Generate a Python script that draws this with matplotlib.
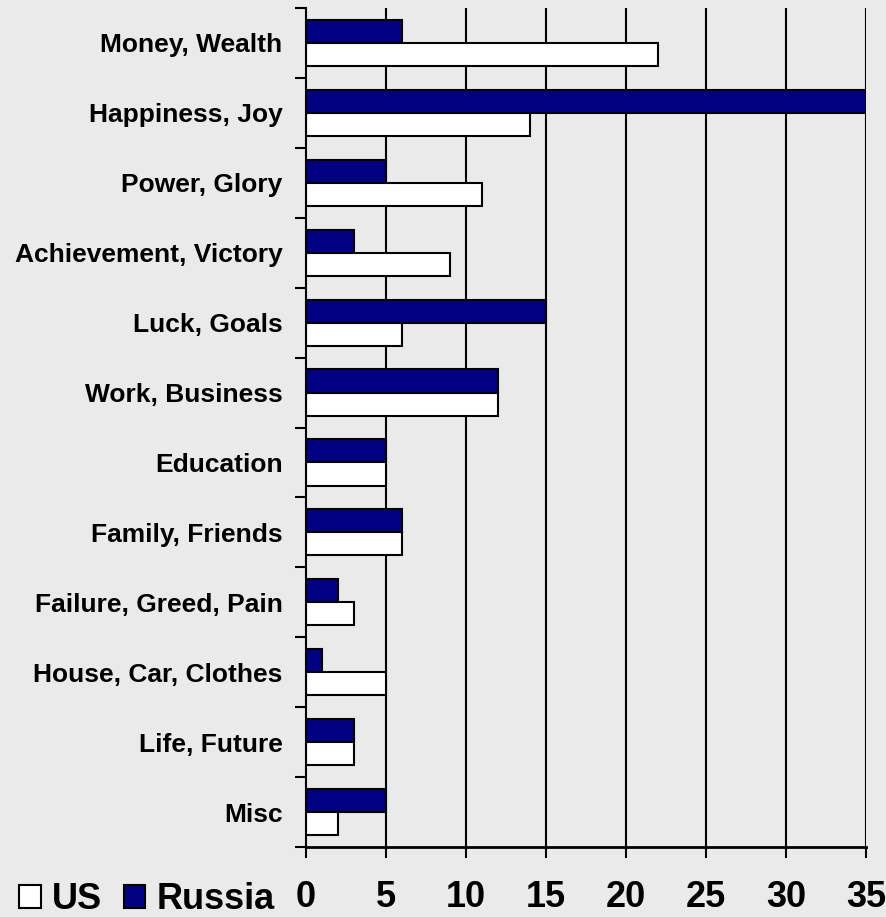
import matplotlib.pyplot as plt
from matplotlib.patches import Patch
import numpy as np

plt.rcParams['font.family'] = ['Liberation Sans', 'DejaVu Sans']
plt.rcParams['font.weight'] = 'bold'

categories = ['Money, Wealth', 'Happiness, Joy', 'Power, Glory', 'Achievement, Victory',
              'Luck, Goals', 'Work, Business', 'Education', 'Family, Friends',
              'Failure, Greed, Pain', 'House, Car, Clothes', 'Life, Future', 'Misc']
russia = [6, 35, 5, 3, 15, 12, 5, 6, 2, 1, 3, 5]
us = [22, 14, 11, 9, 6, 12, 5, 6, 3, 5, 3, 2]
xticks = [0, 5, 10, 15, 20, 25, 30, 35]

bg = '#eaeaea'
navy = '#000080'

fig = plt.figure(figsize=(8.86, 9.17), dpi=100, facecolor=bg)
ax = fig.add_axes([0.3454, 0.0763, 0.632, 0.915])
ax.set_facecolor(bg)

y = np.arange(len(categories))
h = 0.33
ax.barh(y - h / 2, russia, height=h, color=navy, edgecolor='black', linewidth=1.5, zorder=3)
ax.barh(y + h / 2, us, height=h, color='white', edgecolor='black', linewidth=1.5, zorder=3)

ax.set_xlim(0, 35)
ax.set_ylim(len(categories) - 0.5, -0.5)

ax.set_xticks(xticks)
ax.set_xticklabels([str(v) for v in xticks], fontsize=26, fontweight='bold')
ax.tick_params(axis='x', direction='out', length=8, width=1.5, pad=16)

# category names sit between the boundary ticks
ax.set_yticks(np.arange(len(categories) + 1) - 0.5)
ax.set_yticklabels([])
ax.set_yticks(y, minor=True)
ax.set_yticklabels(categories, minor=True, fontsize=19, fontweight='bold')
ax.tick_params(axis='y', which='major', direction='out', length=8, width=1.5)
ax.tick_params(axis='y', which='minor', length=0, pad=17)

for v in xticks[1:]:
    ax.axvline(v, color='black', linewidth=1.5, zorder=1)

for side in ['top', 'right']:
    ax.spines[side].set_visible(False)
ax.spines['left'].set_linewidth(1.5)
ax.spines['bottom'].set_linewidth(2)
ax.spines['left'].set_zorder(4)

handles = [Patch(facecolor='white', edgecolor='black', linewidth=1.5),
           Patch(facecolor=navy, edgecolor='black', linewidth=1.5)]
fig.legend(handles, ['US', 'Russia'], loc='lower left', bbox_to_anchor=(0.022, 0.0),
           ncol=2, frameon=False, prop={'size': 26, 'weight': 'bold'},
           handlelength=0.6, handleheight=0.6, handletextpad=0.3,
           columnspacing=0.6, borderaxespad=0, borderpad=0)

fig.savefig('out.png', dpi=100, facecolor=bg)
